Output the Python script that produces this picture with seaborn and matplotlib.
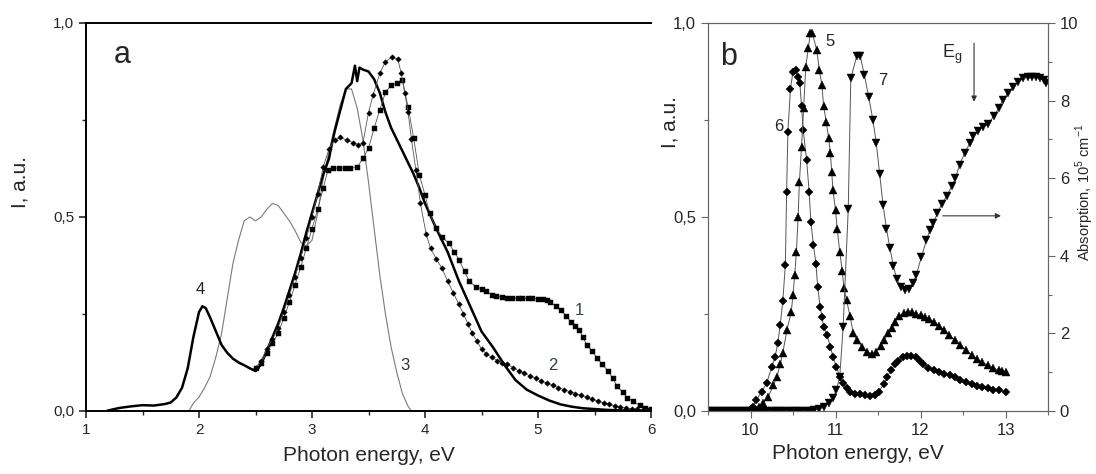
"""Two-panel luminescence / absorption spectra (panels a and b)."""
import matplotlib
matplotlib.use("Agg")
import matplotlib.pyplot as plt
from matplotlib.ticker import FuncFormatter, MultipleLocator
import seaborn as sns

# ---- panel a -------------------------------------------------------------
E1 = [2.50, 2.55, 2.60, 2.65, 2.70, 2.75, 2.80, 2.85, 2.90, 2.95, 3.00, 3.05, 3.10,
      3.14, 3.19, 3.24, 3.29, 3.34, 3.40,
      3.45, 3.50, 3.55, 3.60, 3.65, 3.70, 3.75, 3.80, 3.85, 3.90, 3.95, 4.00,
      4.04, 4.10, 4.15, 4.21, 4.26, 4.30, 4.35, 4.39, 4.45, 4.50,
      4.54, 4.59, 4.63, 4.68, 4.73, 4.77, 4.82, 4.86, 4.91, 4.95, 5.00,
      5.04, 5.08, 5.11, 5.16, 5.20, 5.25, 5.29, 5.33, 5.36, 5.40, 5.43, 5.48,
      5.52, 5.57, 5.62, 5.66, 5.70, 5.75, 5.79, 5.84, 5.90, 5.95, 6.00]
I1 = [0.11, 0.125, 0.15, 0.175, 0.20, 0.24, 0.28, 0.325, 0.37, 0.42, 0.47, 0.52, 0.575,
      0.62, 0.626, 0.626, 0.626, 0.626, 0.628,
      0.651, 0.677, 0.729, 0.776, 0.821, 0.84, 0.845, 0.853, 0.784, 0.703, 0.608, 0.557,
      0.51, 0.471, 0.449, 0.432, 0.41, 0.39, 0.36, 0.335, 0.32, 0.315,
      0.31, 0.30, 0.296, 0.293, 0.29, 0.29, 0.29, 0.29, 0.29, 0.29, 0.289,
      0.288, 0.285, 0.28, 0.27, 0.26, 0.245, 0.23, 0.22, 0.21, 0.19, 0.17, 0.155,
      0.137, 0.12, 0.103, 0.085, 0.064, 0.048, 0.034, 0.025, 0.015, 0.009, 0.005]

E2 = [2.50, 2.55, 2.60, 2.65, 2.70, 2.75, 2.80, 2.85, 2.90, 2.95, 3.00, 3.05, 3.10, 3.15, 3.20, 3.25,
      3.31, 3.36, 3.41, 3.45, 3.50, 3.54, 3.60, 3.65, 3.71, 3.76,
      3.79, 3.82, 3.85, 3.88, 3.92, 3.96, 4.01, 4.05, 4.10, 4.15,
      4.20, 4.25, 4.30, 4.34, 4.38, 4.42, 4.46, 4.50, 4.54, 4.59,
      4.64, 4.68, 4.73, 4.78, 4.83, 4.88, 4.93, 4.98, 5.03, 5.08,
      5.13, 5.18, 5.23, 5.28, 5.33, 5.38, 5.43, 5.48, 5.53, 5.58,
      5.63, 5.68, 5.73, 5.78, 5.83, 5.88, 5.93, 5.98]
I2 = [0.11, 0.13, 0.16, 0.185, 0.215, 0.255, 0.30, 0.345, 0.395, 0.445, 0.50, 0.56, 0.63, 0.675, 0.698, 0.705,
      0.698, 0.692, 0.686, 0.69, 0.769, 0.814, 0.87, 0.90, 0.913, 0.906,
      0.87, 0.82, 0.771, 0.70, 0.62, 0.535, 0.456, 0.419, 0.392, 0.368,
      0.335, 0.305, 0.275, 0.25, 0.225, 0.20, 0.18, 0.16, 0.148, 0.138,
      0.13, 0.125, 0.12, 0.112, 0.103, 0.097, 0.09, 0.084, 0.077, 0.071,
      0.066, 0.06, 0.055, 0.05, 0.045, 0.04, 0.035, 0.03, 0.025, 0.021,
      0.017, 0.013, 0.01, 0.008, 0.006, 0.004, 0.003, 0.002]

E3 = [1.91, 1.95, 2.00, 2.05, 2.10, 2.15, 2.20, 2.25, 2.30, 2.35, 2.40, 2.45, 2.50, 2.55,
      2.60, 2.65, 2.70, 2.75, 2.80, 2.85, 2.90, 2.95, 3.00, 3.05, 3.10, 3.15, 3.20, 3.25,
      3.30, 3.35, 3.40, 3.45, 3.50, 3.55, 3.60, 3.65, 3.70, 3.75, 3.80, 3.85, 3.88]
I3 = [0.0, 0.02, 0.036, 0.06, 0.09, 0.14, 0.20, 0.29, 0.38, 0.44, 0.49, 0.50, 0.49, 0.50,
      0.52, 0.535, 0.53, 0.51, 0.49, 0.465, 0.435, 0.425, 0.44, 0.51, 0.60, 0.67, 0.73, 0.79,
      0.83, 0.83, 0.78, 0.70, 0.59, 0.47, 0.35, 0.25, 0.165, 0.10, 0.045, 0.012, 0.0]

E4 = [1.18, 1.25, 1.30, 1.40, 1.50, 1.60, 1.70, 1.75, 1.80, 1.85, 1.90, 1.95, 2.00, 2.03,
      2.06, 2.10, 2.15, 2.20, 2.25, 2.30, 2.35, 2.40, 2.45, 2.50, 2.55, 2.60, 2.65, 2.70,
      2.75, 2.80, 2.85, 2.90, 2.95, 3.00, 3.05, 3.10, 3.15, 3.17, 3.20, 3.25, 3.30, 3.35,
      3.38, 3.40, 3.42, 3.45, 3.50, 3.55, 3.60, 3.65, 3.70, 3.75, 3.80, 3.85, 3.90, 3.95,
      4.00, 4.10, 4.20, 4.30, 4.40, 4.50, 4.60, 4.70, 4.80, 4.90, 5.00, 5.10, 5.20, 5.30,
      5.40, 5.50, 5.60, 5.70, 5.80, 5.90, 6.00]
I4 = [0.0, 0.005, 0.008, 0.012, 0.015, 0.014, 0.018, 0.022, 0.035, 0.06, 0.11, 0.19, 0.255, 0.27,
      0.265, 0.24, 0.205, 0.17, 0.15, 0.135, 0.125, 0.118, 0.11, 0.103, 0.12, 0.155, 0.19, 0.225,
      0.265, 0.31, 0.355, 0.405, 0.46, 0.51, 0.56, 0.61, 0.65, 0.68, 0.72, 0.775, 0.83, 0.845,
      0.89, 0.85, 0.885, 0.88, 0.875, 0.855, 0.82, 0.77, 0.73, 0.70, 0.67, 0.64, 0.61, 0.575,
      0.535, 0.47, 0.41, 0.335, 0.27, 0.205, 0.165, 0.12, 0.08, 0.055, 0.04, 0.027, 0.017, 0.011,
      0.007, 0.005, 0.003, 0.002, 0.001, 0.001, 0.0]

# ---- panel b (curves 5, 6 on left axis; 7 on right axis) -------------------
E5 = [9.50, 9.55, 9.60, 9.65, 9.70, 9.75, 9.80, 9.85, 9.90, 9.95, 10.00, 10.05,
      10.10, 10.15, 10.21, 10.27, 10.31, 10.35, 10.38, 10.43, 10.48, 10.50, 10.52, 10.54,
      10.56, 10.575, 10.60, 10.625, 10.65, 10.68, 10.705, 10.725, 10.78, 10.81, 10.84,
      10.86, 10.89, 10.92, 10.94, 10.955, 10.97, 11.00, 11.02, 11.05, 11.08, 11.10, 11.13,
      11.17, 11.21, 11.25, 11.31, 11.37, 11.43, 11.48, 11.53, 11.57, 11.62, 11.66, 11.70,
      11.75, 11.80, 11.85, 11.90, 11.95, 12.00, 12.05, 12.10, 12.16, 12.22, 12.28, 12.34,
      12.41, 12.47, 12.54, 12.60, 12.66, 12.72, 12.79, 12.85, 12.92, 12.96, 13.00]
I5 = [0, 0, 0, 0, 0, 0, 0, 0, 0, 0, 0, 0.003,
      0.01, 0.02, 0.037, 0.067, 0.088, 0.12, 0.15, 0.21, 0.256, 0.30, 0.35, 0.41,
      0.50, 0.589, 0.68, 0.78, 0.887, 0.935, 0.975, 0.975, 0.93, 0.879, 0.84,
      0.786, 0.746, 0.703, 0.664, 0.617, 0.57, 0.518, 0.47, 0.41, 0.36, 0.316, 0.286,
      0.245, 0.20, 0.183, 0.166, 0.153, 0.146, 0.153, 0.168, 0.182, 0.20, 0.215, 0.23,
      0.245, 0.252, 0.255, 0.254, 0.25, 0.247, 0.243, 0.237, 0.23, 0.22, 0.208, 0.195,
      0.182, 0.17, 0.156, 0.145, 0.135, 0.126, 0.118, 0.111, 0.105, 0.102, 0.10]

E6 = [9.50, 9.55, 9.60, 9.65, 9.70, 9.75, 9.80, 9.85, 9.90, 9.95, 10.00,
      10.03, 10.07, 10.13, 10.19, 10.25, 10.29, 10.32, 10.35, 10.38, 10.41, 10.425, 10.44,
      10.47, 10.50, 10.53, 10.56, 10.58, 10.60, 10.62, 10.66, 10.69, 10.71, 10.74, 10.77,
      10.79, 10.82, 10.84, 10.86, 10.90, 10.94, 10.97, 11.01, 11.05, 11.09, 11.13, 11.17,
      11.23, 11.29, 11.35, 11.41, 11.46, 11.51, 11.57, 11.61, 11.65, 11.70, 11.74, 11.79,
      11.84, 11.89, 11.95, 11.99, 12.03, 12.09, 12.16, 12.22, 12.28, 12.35, 12.41, 12.47,
      12.54, 12.60, 12.66, 12.72, 12.79, 12.85, 12.92, 13.00]
I6 = [0, 0, 0, 0, 0, 0, 0, 0, 0, 0, 0.004,
      0.011, 0.028, 0.05, 0.071, 0.114, 0.14, 0.174, 0.222, 0.284, 0.376, 0.565, 0.72,
      0.83, 0.875, 0.88, 0.86, 0.846, 0.786, 0.724, 0.647, 0.565, 0.488, 0.428, 0.38,
      0.32, 0.267, 0.243, 0.217, 0.196, 0.166, 0.14, 0.114, 0.088, 0.071, 0.058, 0.05,
      0.045, 0.045, 0.041, 0.039, 0.04, 0.05, 0.07, 0.088, 0.105, 0.12, 0.13, 0.138,
      0.141, 0.142, 0.139, 0.13, 0.122, 0.112, 0.105, 0.10, 0.096, 0.092, 0.088, 0.081,
      0.075, 0.07, 0.064, 0.061, 0.058, 0.055, 0.053, 0.049]

E7 = [9.50, 9.55, 9.60, 9.65, 9.70, 9.75, 9.80, 9.85, 9.90, 9.95, 10.00, 10.05, 10.10,
      10.15, 10.20, 10.25, 10.30, 10.35, 10.40, 10.45, 10.50, 10.55, 10.60, 10.65, 10.70,
      10.75, 10.81, 10.86, 10.92, 10.97, 11.01, 11.05, 11.09, 11.15, 11.18, 11.25, 11.29,
      11.34, 11.39, 11.44, 11.48, 11.52, 11.56, 11.60, 11.64, 11.68, 11.72, 11.77, 11.82,
      11.87, 11.91, 11.95, 12.01, 12.07, 12.11, 12.15, 12.20, 12.25, 12.31, 12.37, 12.41,
      12.46, 12.52, 12.58, 12.62, 12.68, 12.74, 12.80, 12.86, 12.92, 12.97, 13.03, 13.09,
      13.15, 13.21, 13.26, 13.31, 13.36, 13.41, 13.45, 13.48]
A7 = [0, 0, 0, 0, 0, 0, 0, 0, 0, 0, 0, 0, 0,
      0, 0, 0, 0, 0, 0, 0, 0, 0, 0, 0, 0,
      0.02, 0.06, 0.11, 0.20, 0.33, 0.54, 0.88, 2.17, 5.2, 8.57, 9.15, 9.15,
      8.66, 8.1, 7.5, 6.9, 6.1, 5.3, 4.7, 4.2, 3.75, 3.4, 3.2, 3.13,
      3.15, 3.3, 3.5, 3.97, 4.40, 4.66, 4.85, 5.1, 5.34, 5.55, 5.8, 6.0,
      6.35, 6.65, 6.9, 7.08, 7.22, 7.33, 7.4, 7.6, 7.8, 8.02, 8.19, 8.34,
      8.49, 8.57, 8.61, 8.62, 8.6, 8.57, 8.52, 8.46]

LINE_GREY = "#555555"


def comma(v, _):
    return f"{v:.1f}".replace(".", ",")


def draw(ax, x, y, marker=None, ms=0.0, lw=0.7, color=LINE_GREY):
    sns.lineplot(x=x, y=y, ax=ax, estimator=None, color=color, lw=lw,
                 marker=marker, markersize=ms, markerfacecolor="black",
                 markeredgecolor="black", markeredgewidth=0.3)


def main() -> None:
    sns.set_style("ticks")
    plt.rcParams["font.family"] = ["Liberation Sans", "DejaVu Sans"]
    plt.rcParams["mathtext.fontset"] = "custom"
    plt.rcParams["mathtext.rm"] = "Liberation Sans"

    fig = plt.figure(figsize=(10.96, 4.74), dpi=100)
    bottom, height = 63 / 474, 388 / 474
    ax_a = fig.add_axes([86 / 1096, bottom, 565 / 1096, height])
    ax_b = fig.add_axes([708 / 1096, bottom, 340 / 1096, height])
    ax_r = ax_b.twinx()

    # panel a
    draw(ax_a, E3, I3, lw=0.8, color="#7a7a7a")
    draw(ax_a, E4, I4, lw=1.8, color="black")
    draw(ax_a, E1, I1, marker="s", ms=3.6, lw=0.6)
    draw(ax_a, E2, I2, marker="D", ms=2.8, lw=0.6)

    ax_a.set_xlim(1, 6)
    ax_a.set_ylim(0, 1)
    ax_a.xaxis.set_major_locator(MultipleLocator(1))
    ax_a.xaxis.set_minor_locator(MultipleLocator(0.5))
    ax_a.yaxis.set_major_locator(MultipleLocator(0.5))
    ax_a.yaxis.set_minor_locator(MultipleLocator(0.25))
    ax_a.yaxis.set_major_formatter(FuncFormatter(comma))
    ax_a.spines["right"].set_visible(False)
    for s in ("left", "bottom", "top"):
        ax_a.spines[s].set_linewidth(1.4)
        ax_a.spines[s].set_color("black")
    ax_a.tick_params(which="major", length=5, width=1.2, labelsize=11, direction="out")
    ax_a.tick_params(which="minor", length=3, width=1.0, direction="out")
    ax_a.set_xlabel("Photon energy, eV", fontsize=15)
    ax_a.xaxis.set_label_coords(0.5, -0.09)
    ax_a.set_ylabel("I, a.u.", fontsize=15)
    ax_a.yaxis.set_label_coords(-0.10, 0.59)

    ax_a.text(1.32, 0.918, "a", fontsize=22, ha="center", va="center")
    ax_a.text(2.01, 0.313, "4", fontsize=12, ha="center", va="center", color="#222222")
    ax_a.text(3.82, 0.117, "3", fontsize=12, ha="center", va="center", color="#333333")
    ax_a.text(5.13, 0.117, "2", fontsize=12, ha="center", va="center", color="#2f4040")
    ax_a.text(5.37, 0.26, "1", fontsize=12, ha="center", va="center", color="#2f4a4a")

    # panel b
    draw(ax_b, E6, I6, marker="D", ms=4.0, lw=0.7)
    draw(ax_b, E5, I5, marker="^", ms=5.5, lw=0.7)
    draw(ax_r, E7, A7, marker="v", ms=5.5, lw=0.7)

    ax_b.set_xlim(9.5, 13.5)
    ax_b.set_ylim(0, 1)
    ax_r.set_ylim(0, 10)
    ax_b.xaxis.set_major_locator(MultipleLocator(1))
    ax_b.xaxis.set_minor_locator(MultipleLocator(0.5))
    ax_b.yaxis.set_major_locator(MultipleLocator(0.5))
    ax_b.yaxis.set_minor_locator(MultipleLocator(0.25))
    ax_b.yaxis.set_major_formatter(FuncFormatter(comma))
    ax_r.yaxis.set_major_locator(MultipleLocator(2))
    ax_r.yaxis.set_minor_locator(MultipleLocator(1))
    for ax in (ax_b, ax_r):
        for s in ax.spines.values():
            s.set_linewidth(0.8)
            s.set_color("#666666")
        ax.tick_params(which="major", length=5, width=0.8, color="#666666",
                       labelsize=12, direction="out")
        ax.tick_params(which="minor", length=3, width=0.8, color="#666666", direction="out")
    ax_b.set_xlabel("Photon energy, eV", fontsize=15)
    ax_b.xaxis.set_label_coords(0.44, -0.085)
    ax_b.set_ylabel("I, a.u.", fontsize=15)
    ax_b.yaxis.set_label_coords(-0.085, 0.745)
    # sits right against the image edge, as in the reference
    ax_r.set_ylabel(r"Absorption, 10$^{5}$ cm$^{-1}$", fontsize=10.5)
    ax_r.yaxis.set_label_coords(1.075, 0.565)

    ax_b.text(9.74, 0.913, "b", fontsize=22, ha="center", va="center")
    ax_b.text(10.93, 0.952, "5", fontsize=12, ha="center", va="center")
    ax_b.text(10.33, 0.733, "6", fontsize=12, ha="center", va="center")
    ax_b.text(11.56, 0.853, "7", fontsize=12, ha="center", va="center")
    ax_b.text(12.37, 0.92, r"E$_\mathrm{g}$", fontsize=13, ha="center", va="center")
    ax_b.annotate("", xy=(12.63, 0.79), xytext=(12.63, 0.955),
                  arrowprops=dict(arrowstyle="-|>", color="#333333", lw=0.8, mutation_scale=8))
    ax_b.annotate("", xy=(12.98, 0.503), xytext=(12.23, 0.503),
                  arrowprops=dict(arrowstyle="-|>", color="#333333", lw=0.8, mutation_scale=8))

    fig.savefig("out.png", dpi=100)
    plt.close(fig)


if __name__ == "__main__":
    main()
